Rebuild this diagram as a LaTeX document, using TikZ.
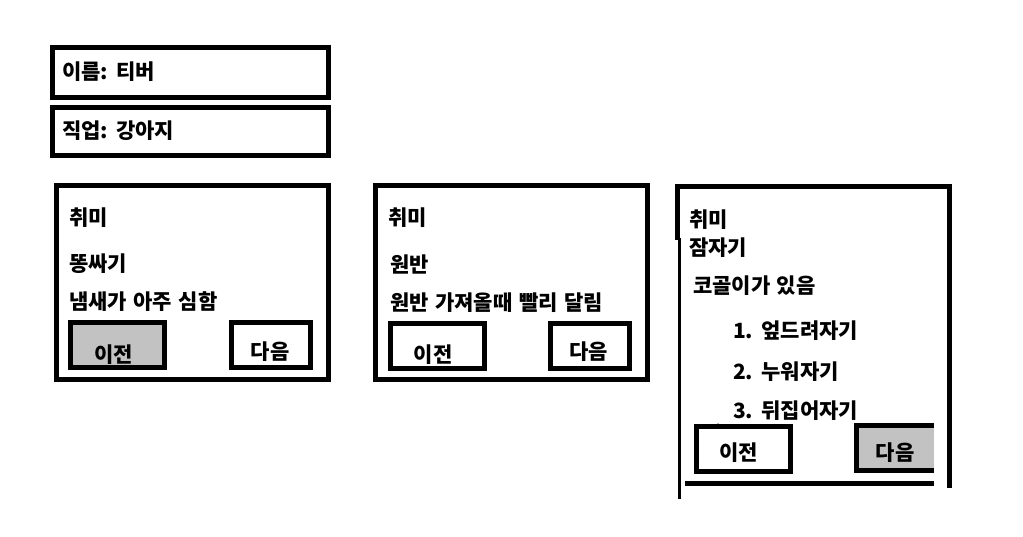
\documentclass[tikz,border=0pt]{standalone}
\usepackage{fontspec}
\setmainfont{Noto Sans CJK KR}[WordSpace=1.35]
\begin{document}
\begin{tikzpicture}[x=1pt,y=-1pt,
  box/.style={draw=black,line width=5pt,inner sep=0pt,rectangle},
  btn/.style={box,minimum width=94pt,minimum height=45pt},
  btnn/.style={box,minimum width=79pt,minimum height=45pt},
  pressed/.style={fill=black!24},
  txt/.style={anchor=west,inner sep=0pt,font=\fontsize{21pt}{23pt}\selectfont\bfseries},
  edge/.style={line width=5pt,line cap=rect}]
\useasboundingbox (0,0) rectangle (1023,537);
% header boxes
\node[box,minimum width=276pt,minimum height=50pt] (name) at (190.5,72.5) {};
\node[box,minimum width=276pt,minimum height=48pt] (job) at (190.5,131.5) {};
\node[txt] (nameT) at (62,72) {이름: 티버};
\node[txt] (jobT) at (62,131) {직업: 강아지};
% panel 1
\node[box,minimum width=272pt,minimum height=194pt] (p1) at (192.5,282.5) {};
\node[txt] (p1a) at (69,218) {취미};
\node[txt] (p1b) at (69,264) {똥싸기};
\node[txt] (p1c) at (69,302) {냄새가 아주 심함};
\node[btn,pressed] (p1prev) at (117.5,345) {};
\node[btnn] (p1next) at (271,345) {};
\node[txt,anchor=center] (p1prevT) at (113.5,355) {이전};
\node[txt,anchor=center] (p1nextT) at (270,352) {다음};
% panel 2
\node[box,minimum width=272pt,minimum height=194pt] (p2) at (511.5,282.5) {};
\node[txt] (p2a) at (388,218) {취미};
\node[txt] (p2b) at (390,264) {원반};
\node[txt] (p2c) at (390,303) {원반 가져올때 빨리 달림};
\node[btn] (p2prev) at (437.5,346) {};
\node[btnn] (p2next) at (590,346) {};
\node[txt,anchor=center] (p2prevT) at (433,355) {이전};
\node[txt,anchor=center] (p2nextT) at (588.5,352) {다음};
% panel 3 (irregular frame)
\coordinate (tl) at (677,187);
\coordinate (tr) at (949.5,187);
\coordinate (br) at (949.5,488);
\draw[line width=5pt] (677,240) -- (tl) -- (tr) -- (br);
\draw[line width=3pt] (679.5,238) -- (679.5,499);
\draw[line width=5pt] (685,483.5) -- (934,483.5);
\node[txt] (p3a) at (689,220) {취미};
\node[txt] (p3b) at (689,248) {잠자기};
\node[txt] (p3c) at (693,286) {코골이가 있음};
\node[txt] (p3d) at (733,331) {1. 엎드려자기};
\node[txt] (p3e) at (733,372) {2. 누워자기};
\node[txt] (p3f) at (733,411) {3. 뒤집어자기};
\fill (718,426) circle (2.5pt);
\node[btn,fill=white] (p3prev) at (743.5,449) {};
\fill[black!24] (856.5,425.5) rectangle (934,470.5);
\draw[line width=5pt] (934,425.5) -- (856.5,425.5) -- (856.5,470.5) -- (934,470.5);
\node[txt,anchor=center] (p3prevT) at (738.5,453) {이전};
\node[txt,anchor=center] (p3nextT) at (895,453) {다음};
\end{tikzpicture}
\end{document}
